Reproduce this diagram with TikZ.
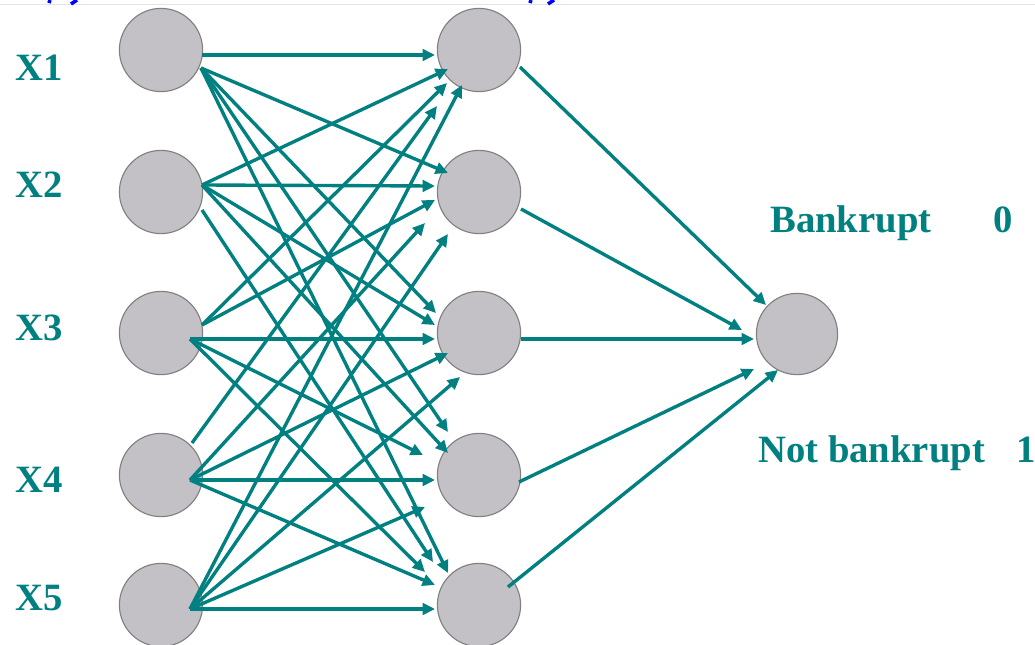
\documentclass[tikz,border=0pt]{standalone}
\usepackage{fontspec}
\setmainfont{Liberation Serif}
\usetikzlibrary{arrows.meta,calc}
\definecolor{tealc}{RGB}{0,128,128}
\definecolor{nodegray}{RGB}{195,193,198}
\definecolor{rimgray}{RGB}{128,128,128}
\definecolor{rulegray}{RGB}{228,228,228}
\begin{document}
\begin{tikzpicture}[x=0.025cm,y=-0.025cm,
  neuron/.style={circle,draw=rimgray,line width=0.8pt,fill=nodegray,minimum size=2.08cm,inner sep=0pt},
  lbl/.style={text=tealc,font=\fontsize{27.5}{30}\selectfont\bfseries,anchor=base west,inner sep=0pt},
  edge/.style={draw=tealc,line width=2.4pt,-{Triangle[length=0.31cm,width=0.29cm]}},
  frag/.style={draw=blue,line width=2.5pt}
]
\fill[white] (0,0) rectangle (1035,645);
\useasboundingbox (0,0) rectangle (1035,645);
% top rule and cut-off title fragments
\draw[rulegray,line width=0.6pt] (0,4.5) -- (1035,4.5);
\draw[frag] (50,0) -- (49,3);
\draw[frag] (77,0) -- (71,4);
\draw[frag] (531,0) -- (530,3);
\draw[frag] (554,0) -- (548,4);

% input layer
\node[neuron] (i1) at (161,50) {};
\node[neuron] (i2) at (161,192) {};
\node[neuron] (i3) at (161,333) {};
\node[neuron] (i4) at (161,475) {};
\node[neuron] (i5) at (161,605) {};
% hidden layer
\node[neuron] (h1) at (479,50) {};
\node[neuron] (h2) at (479,192) {};
\node[neuron] (h3) at (479,333) {};
\node[neuron] (h4) at (479,475) {};
\node[neuron] (h5) at (479,605) {};
% output
\node[neuron,minimum size=2.03cm] (o) at (797,334) {};

% labels
\node[lbl] (x1) at (15,80) {X1};
\node[lbl] (x2) at (15,197) {X2};
\node[lbl] (x3) at (15,340) {X3};
\node[lbl] (x4) at (15,492) {X4};
\node[lbl] (x5) at (15,610) {X5};
\node[lbl] (bk) at (770,232) {Bankrupt};
\node[lbl] (bk0) at (993,232) {0};
\node[lbl] (nb) at (758,462) {Not bankrupt};
\node[lbl] (nb1) at (1016,462) {1};

% X1 edges
\draw[edge] ($(i1)+(41,5)$) -- ($(h1)+(-44,5)$);
\draw[edge] ($(i1)+(40,18)$) -- ($(h2)+(-31,-19)$);
\draw[edge] ($(i1)+(40,18)$) -- ($(h3)+(-43,-20)$);
\draw[edge] ($(i1)+(40,18)$) -- ($(h4)+(-31,-43)$);
\draw[edge] ($(i1)+(40,18)$) -- ($(h5)+(-31,-32)$);
% X2 edges
\draw[edge] ($(i2)+(41,-7)$) -- ($(h1)+(-31,19)$);
\draw[edge] ($(i2)+(41,-7)$) -- ($(h2)+(-44,-6)$);
\draw[edge] ($(i2)+(41,-7)$) -- ($(h3)+(-44,-8)$);
\draw[edge] ($(i2)+(41,-7)$) -- ($(h4)+(-31,-22)$);
\draw[edge] ($(i2)+(41,18)$) -- ($(h5)+(-46,-43)$);
% X3 edges
\draw[edge] ($(i3)+(41,-8)$) -- ($(h1)+(-32,33)$);
\draw[edge] ($(i3)+(41,-8)$) -- ($(h2)+(-44,8)$);
\draw[edge] ($(i3)+(29,6)$) -- ($(h3)+(-44,6)$);
\draw[edge] ($(i3)+(29,6)$) -- ($(h4)+(-56,-20)$);
\draw[edge] ($(i3)+(29,6)$) -- ($(h5)+(-54,-33)$);
% X4 edges
\draw[edge] ($(i4)+(31,-32)$) -- ($(h1)+(-42,56)$);
\draw[edge] ($(i4)+(29,5)$) -- ($(h2)+(-54,31)$);
\draw[edge] ($(i4)+(29,5)$) -- ($(h3)+(-31,20)$);
\draw[edge] ($(i4)+(29,5)$) -- ($(h4)+(-44,5)$);
\draw[edge] ($(i4)+(29,5)$) -- ($(h5)+(-44,-20)$);
% X5 edges
\draw[edge] ($(i5)+(29,4)$) -- ($(h1)+(-17,35)$);
\draw[edge] ($(i5)+(29,4)$) -- ($(h2)+(-31,42)$);
\draw[edge] ($(i5)+(29,4)$) -- ($(h3)+(-19,44)$);
\draw[edge] ($(i5)+(29,4)$) -- ($(h4)+(-54,32)$);
\draw[edge] ($(i5)+(29,4)$) -- ($(h5)+(-44,4)$);
% hidden to output
\draw[edge] ($(h1)+(41,17)$) -- ($(o)+(-31,-29)$);
\draw[edge] ($(h2)+(42,17)$) -- ($(o)+(-55,-4)$);
\draw[edge] ($(h3)+(42,6)$) -- ($(o)+(-43,5)$);
\draw[edge] ($(h4)+(40,7)$) -- ($(o)+(-43,35)$);
\draw[edge] ($(h5)+(29,-18)$) -- ($(o)+(-19,36)$);
\end{tikzpicture}
\end{document}
